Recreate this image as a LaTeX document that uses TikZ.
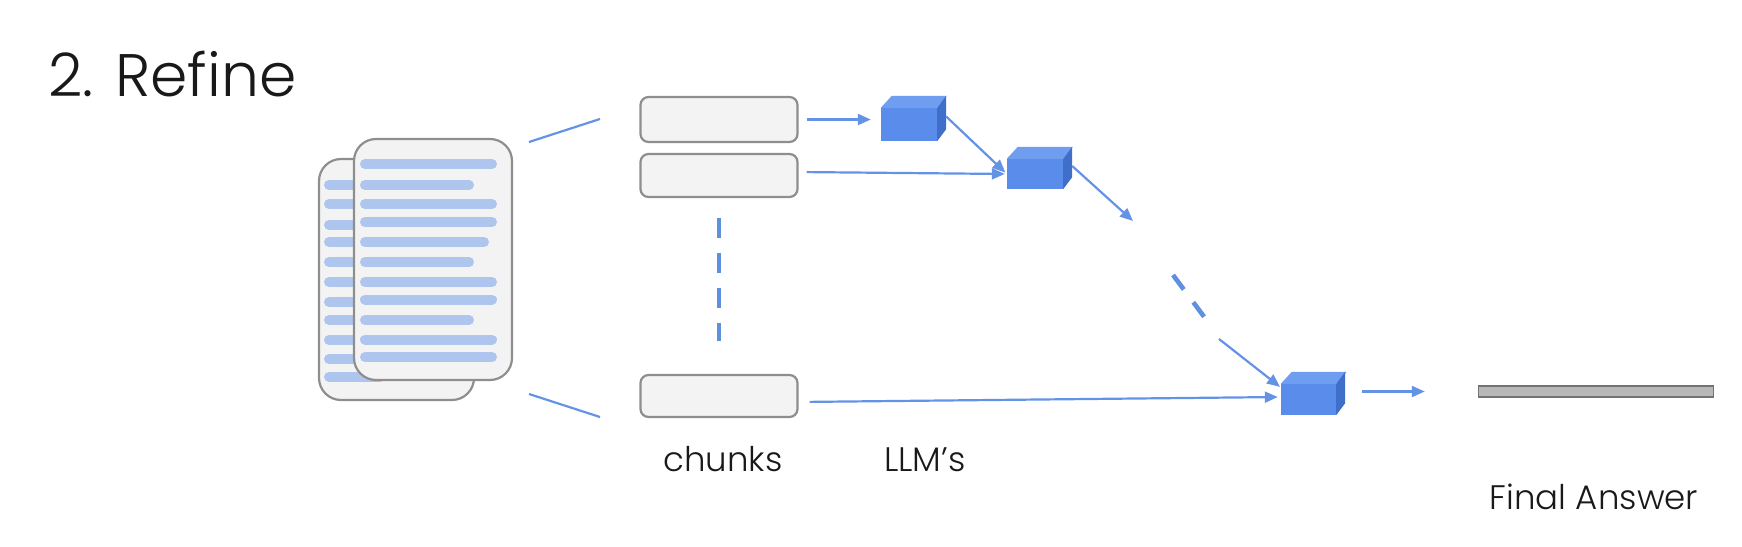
\documentclass[tikz,border=0pt]{standalone}
\usepackage{fontspec}
\setmainfont{Poppins Light}
\usetikzlibrary{arrows.meta}

\definecolor{sheetfill}{HTML}{F3F3F3}
\definecolor{sheetedge}{HTML}{8E8E8E}
\definecolor{textbar}{HTML}{AEC6EE}
\definecolor{flowblue}{HTML}{6493E6}
\definecolor{dashblue}{HTML}{5F8FDF}
\definecolor{cubefront}{HTML}{5A8CEC}
\definecolor{cubetop}{HTML}{6F9DF0}
\definecolor{cubeside}{HTML}{3F6FC8}

% side and top faces of a cube, hung on the front node
\newcommand{\cubefaces}[1]{
    \fill[cubetop] (#1.north west) -- ++(11,-12) -- ++(55,0) -- (#1.north east) -- cycle;
    \fill[cubeside] (#1.north east) -- ++(9,-12) -- ([xshift=9pt,yshift=12pt]#1.south east) -- (#1.south east) -- cycle;
    \coordinate (#1out) at ([xshift=9pt,yshift=8pt]#1.east);
}

\begin{document}
\begin{tikzpicture}[
    x=1pt, y=-1pt,
    sheet/.style={draw=sheetedge, fill=sheetfill, line width=2.2pt, rounded corners=22pt, inner sep=0pt},
    chunkbox/.style={draw=sheetedge, fill=sheetfill, line width=2.2pt, rounded corners=8pt, minimum width=157pt, inner sep=0pt},
    cubebox/.style={fill=cubefront, inner sep=0pt},
    bar/.style={line width=10pt, line cap=round, textbar},
    fan/.style={draw=flowblue, line width=2.2pt},
    flow/.style={draw=flowblue, line width=2.2pt, -{Triangle[length=13pt,width=11pt]}},
    dashes/.style={draw=dashblue, line width=4.6pt},
    caption/.style={anchor=base, inner sep=0pt, text=black!90, font=\fontsize{34}{34}\selectfont}
]
    \useasboundingbox (0,0) rectangle (1742,546);

    % Title
    \node[anchor=base west, inner sep=0pt, text=black!90, font=\fontsize{60}{60}\selectfont] (title) at (48,96) {2. Refine};

    % Back page
    \node[sheet, minimum width=155pt, minimum height=241pt] (backpage) at (396.5,279.5) {};
    \foreach \y/\xend in {185/370, 204/370, 225/370, 242/370, 262/370, 282/370, 302/370, 320/370, 340/370, 359/370, 377/380} {
        \draw[bar] (329,\y) -- (\xend,\y);
    }

    % Front page
    \node[sheet, minimum width=158pt, minimum height=241pt] (frontpage) at (433,259.5) {};
    \foreach \y/\xend in {164/492, 185/469, 204/492, 222/492, 242/484, 262/469, 282/492, 299.5/492, 320/469, 339.5/492, 357/492} {
        \draw[bar] (365,\y) -- (\xend,\y);
    }

    % Chunks
    \node[chunkbox, minimum height=45pt] (chunka) at (719,119.5) {};
    \node[chunkbox, minimum height=43pt] (chunkb) at (719,175.5) {};
    \node[chunkbox, minimum height=42pt] (chunkc) at (719,396) {};
    \draw[dashes, dash pattern=on 20pt off 15pt, shorten <=20pt, shorten >=33pt] (chunkb.south) -- (chunkc.north);

    % Fan lines from the pages to the chunks
    \coordinate (fanatop) at (529,142);
    \coordinate (fanbtop) at (600,119);
    \coordinate (fanabot) at (529,394);
    \coordinate (fanbbot) at (600,417);
    \draw[fan] (fanatop) -- (fanbtop);
    \draw[fan] (fanabot) -- (fanbbot);

    % LLM cubes
    \node[cubebox, minimum width=56pt, minimum height=33pt] (cubea) at (909,124.5) {};
    \cubefaces{cubea}
    \node[cubebox, minimum width=56pt, minimum height=30pt] (cubeb) at (1035,174) {};
    \cubefaces{cubeb}
    \node[cubebox, minimum width=55pt, minimum height=31pt] (cubec) at (1308.5,399.5) {};
    \cubefaces{cubec}

    % Final answer
    \node[draw=black!55, fill=black!28, line width=1.5pt, minimum width=235pt, minimum height=11pt, inner sep=0pt] (answer) at (1596,391.5) {};

    % Flow
    \draw[flow, shorten <=8pt, shorten >=10pt] (chunka.east) -- (chunka.east -| cubea.west);
    \draw[flow, shorten <=8pt, shorten >=2pt] ([yshift=3.5pt]chunkb.east) -- (cubeb.west);
    \draw[flow, shorten <=11pt, shorten >=3pt] ([yshift=-6pt]chunkc.east) -- ([yshift=2.5pt]cubec.west);
    \draw[flow, shorten >=2pt] (cubeaout) -- (cubeb.west);

    % Broken line between the second and last cube
    \coordinate (gapa) at (1133,221);
    \coordinate (dasha) at (1173,275);
    \coordinate (dashb) at (1205,318);
    \coordinate (gapb) at (1219,339);
    \draw[flow] (cubebout) -- (gapa);
    \draw[dashes, dash pattern=on 18pt off 16pt] (dasha) -- (dashb);
    \draw[flow, shorten >=1pt] (gapb) -- ([yshift=12pt]cubec.west);
    \draw[flow, shorten <=17pt, shorten >=53pt] (cubecout) -- (cubecout -| answer.west);

    % Labels
    \node[caption] (chunkslabel) at (723,471) {chunks};
    \node[caption] (llmlabel) at (925,471) {LLM’s};
    \node[caption] (answerlabel) at (1594,509) {Final Answer};
\end{tikzpicture}
\end{document}
